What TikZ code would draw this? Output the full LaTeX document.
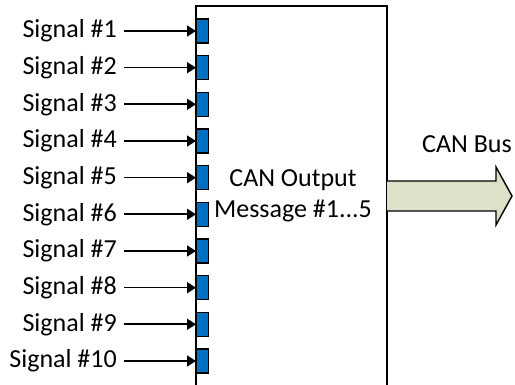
\documentclass[tikz,border=0pt]{standalone}
\usepackage{fontspec}
\setmainfont{Carlito}
\usetikzlibrary{arrows.meta}
\definecolor{portblue}{HTML}{0070C0}
\definecolor{busgreen}{HTML}{DCE1CA}
\tikzset{
  port/.style={draw,fill=portblue,line width=1.2pt,minimum width=12pt,minimum height=24pt,inner sep=0,anchor=west},
  sig/.style={anchor=east,inner xsep=7pt,inner ysep=0,font=\fontsize{26}{30}\selectfont},
  feed/.style={line width=1.6pt,-{Triangle[length=9pt,width=11pt]}}
}
\begin{document}
\begin{tikzpicture}[x=1pt,y=-1pt]
        \useasboundingbox (0,0) rectangle (515,385);
        \draw[line width=1.6pt] (196,385) |- (387,6) -- (387,385);
        \node[port] (p1) at (196,31) {};
        \node[port] (p2) at (196,67.7) {};
        \node[port] (p3) at (196,104.3) {};
        \node[port] (p4) at (196,141) {};
        \node[port] (p5) at (196,177.7) {};
        \node[port] (p6) at (196,214.3) {};
        \node[port] (p7) at (196,251) {};
        \node[port] (p8) at (196,287.7) {};
        \node[port] (p9) at (196,324.3) {};
        \node[port] (p10) at (196,361) {};
        \node[sig] (s1) at (124,31) {Signal \#1};
        \node[sig] (s2) at (124,67.7) {Signal \#2};
        \node[sig] (s3) at (124,104.3) {Signal \#3};
        \node[sig] (s4) at (124,141) {Signal \#4};
        \node[sig] (s5) at (124,177.7) {Signal \#5};
        \node[sig] (s6) at (124,214.3) {Signal \#6};
        \node[sig] (s7) at (124,251) {Signal \#7};
        \node[sig] (s8) at (124,287.7) {Signal \#8};
        \node[sig] (s9) at (124,324.3) {Signal \#9};
        \node[sig] (s10) at (124,361) {Signal \#10};
        \draw[feed] (s1) -- (p1); \draw[feed] (s2) -- (p2);
        \draw[feed] (s3) -- (p3); \draw[feed] (s4) -- (p4);
        \draw[feed] (s5) -- (p5); \draw[feed] (s6) -- (p6);
        \draw[feed] (s7) -- (p7); \draw[feed] (s8) -- (p8);
        \draw[feed] (s9) -- (p9); \draw[feed] (s10) -- (p10);
        \node[align=center,font=\fontsize{26}{31}\selectfont] (msg) at (293,196) {CAN Output\\Message \#1...5};
        \draw[line width=1.4pt,fill=busgreen] (387,181) -- (496,181) -- (496,167) -- (512,196)
          -- (496,225) -- (496,211) -- (387,211);
        \node[font=\fontsize{26}{30}\selectfont] (bus) at (467,144) {CAN Bus};
      \end{tikzpicture}
\end{document}
